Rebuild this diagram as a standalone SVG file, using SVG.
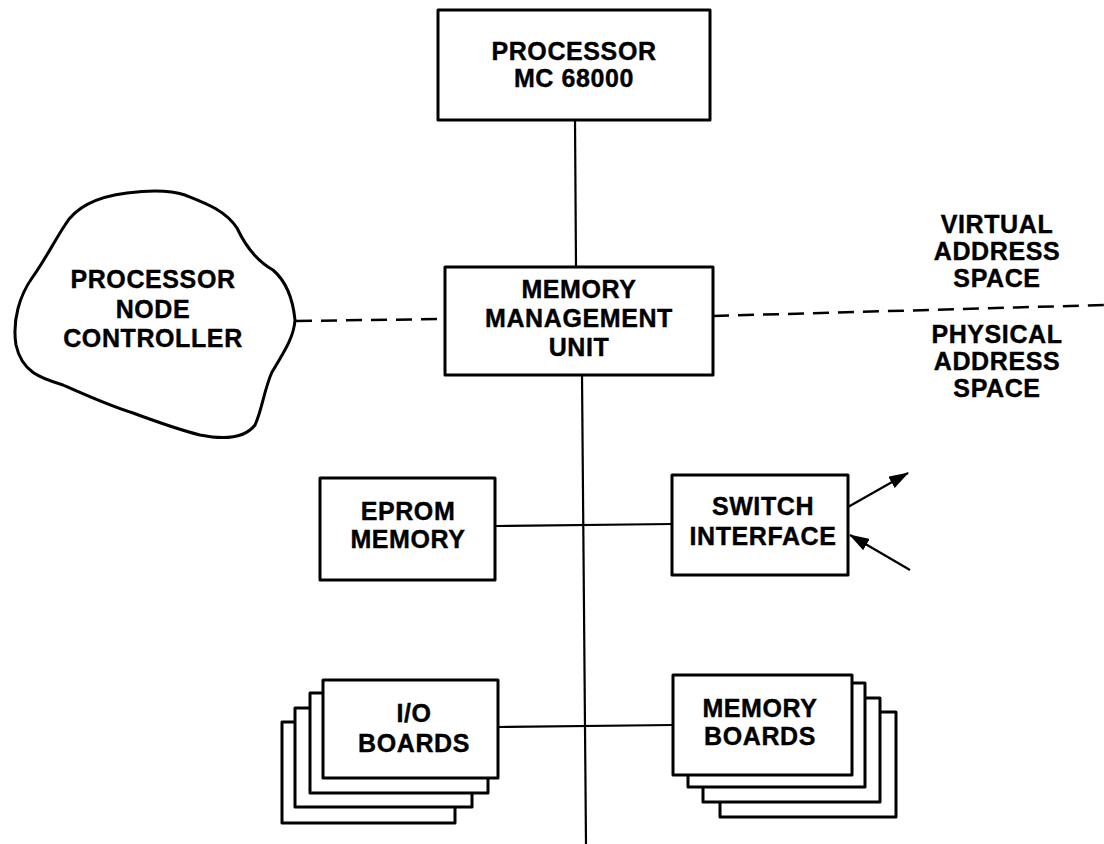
<svg xmlns="http://www.w3.org/2000/svg" width="1104" height="844" viewBox="0 0 1104 844">
  <style>
    .box { fill: #fff; stroke: #000; stroke-width: 3; stroke-linejoin: round; }
    .line { fill: none; stroke: #000; stroke-width: 2.2; }
    .dash { fill: none; stroke: #000; stroke-width: 2.5; stroke-dasharray: 16 9; }
    .lbl { font-family: "Liberation Sans", Arial, sans-serif; font-weight: bold; font-size: 25px; letter-spacing: 0.6px; fill: #000; stroke: #000; stroke-width: 0.4; text-anchor: middle; }
  </style>
  <defs>
    <marker id="head" markerUnits="userSpaceOnUse" markerWidth="20" markerHeight="13" viewBox="0 0 20 13" refX="19" refY="6.5" orient="auto">
      <path d="M0,0 L20,6.5 L0,13 z" fill="#000"/>
    </marker>
  </defs>

  <rect width="1104" height="844" fill="#fff"/>

  <!-- connectors -->
  <g id="connectors">
    <line class="line" x1="575" y1="120" x2="576" y2="267"/>
    <line class="line" x1="582" y1="375" x2="586" y2="844"/>
    <line class="line" x1="495" y1="526" x2="672" y2="524"/>
    <line class="line" x1="498" y1="727" x2="673" y2="725"/>
    <line class="dash" x1="296" y1="321" x2="445" y2="319"/>
    <line class="dash" x1="713" y1="316" x2="1104" y2="305"/>
    <line class="line" x1="848" y1="507" x2="908" y2="473" marker-end="url(#head)"/>
    <line class="line" x1="910" y1="570" x2="850" y2="535" marker-end="url(#head)"/>
  </g>

  <!-- processor -->
  <g id="processor">
    <rect class="box" x="438" y="10" width="272" height="110"/>
    <text class="lbl" x="574" y="60">PROCESSOR</text>
    <text class="lbl" x="574" y="87">MC 68000</text>
  </g>

  <!-- memory management unit -->
  <g id="mmu">
    <rect class="box" x="445" y="267" width="268" height="108"/>
    <text class="lbl" x="579" y="298">MEMORY</text>
    <text class="lbl" x="579" y="327">MANAGEMENT</text>
    <text class="lbl" x="579" y="356">UNIT</text>
  </g>

  <!-- processor node controller (cloud) -->
  <g id="pnc">
    <path class="box" d="M65,225 C75,208 95,197 127,193 C150,190 170,190 185,195 C205,203 225,210 237,228 C245,245 255,260 273,270 C287,282 293,300 295,320 C294,337 284,352 272,372 C264,390 262,410 255,425 C245,438 225,440 200,435 C180,430 160,423 133,413 C110,406 90,397 63,385 C40,378 22,372 16,345 C12,320 20,295 32,278 C45,260 55,240 65,225 z"/>
    <text class="lbl" x="153" y="288">PROCESSOR</text>
    <text class="lbl" x="153" y="318">NODE</text>
    <text class="lbl" x="153" y="347">CONTROLLER</text>
  </g>

  <!-- address space labels -->
  <g id="virtual">
    <text class="lbl" x="997" y="233">VIRTUAL</text>
    <text class="lbl" x="997" y="260">ADDRESS</text>
    <text class="lbl" x="997" y="287">SPACE</text>
  </g>
  <g id="physical">
    <text class="lbl" x="997" y="343">PHYSICAL</text>
    <text class="lbl" x="997" y="370">ADDRESS</text>
    <text class="lbl" x="997" y="397">SPACE</text>
  </g>

  <!-- eprom -->
  <g id="eprom">
    <rect class="box" x="320" y="478" width="175" height="102"/>
    <text class="lbl" x="408" y="520">EPROM</text>
    <text class="lbl" x="408" y="548">MEMORY</text>
  </g>

  <!-- switch interface -->
  <g id="switch">
    <rect class="box" x="672" y="475" width="176" height="100"/>
    <text class="lbl" x="763" y="515">SWITCH</text>
    <text class="lbl" x="763" y="545">INTERFACE</text>
  </g>

  <!-- I/O boards (stacked) -->
  <g id="io-boards">
    <rect class="box" x="282" y="722" width="173" height="101"/>
    <rect class="box" x="295" y="708" width="177" height="99"/>
    <rect class="box" x="310" y="693" width="178" height="100"/>
    <rect class="box" x="323" y="680" width="175" height="98"/>
    <text class="lbl" x="414" y="722">I/O</text>
    <text class="lbl" x="414" y="752">BOARDS</text>
  </g>

  <!-- memory boards (stacked) -->
  <g id="memory-boards">
    <rect class="box" x="720" y="712" width="176" height="105"/>
    <rect class="box" x="703" y="698" width="177" height="104"/>
    <rect class="box" x="688" y="683" width="177" height="104"/>
    <rect class="box" x="673" y="675" width="179" height="100"/>
    <text class="lbl" x="760" y="717">MEMORY</text>
    <text class="lbl" x="760" y="745">BOARDS</text>
  </g>
</svg>
